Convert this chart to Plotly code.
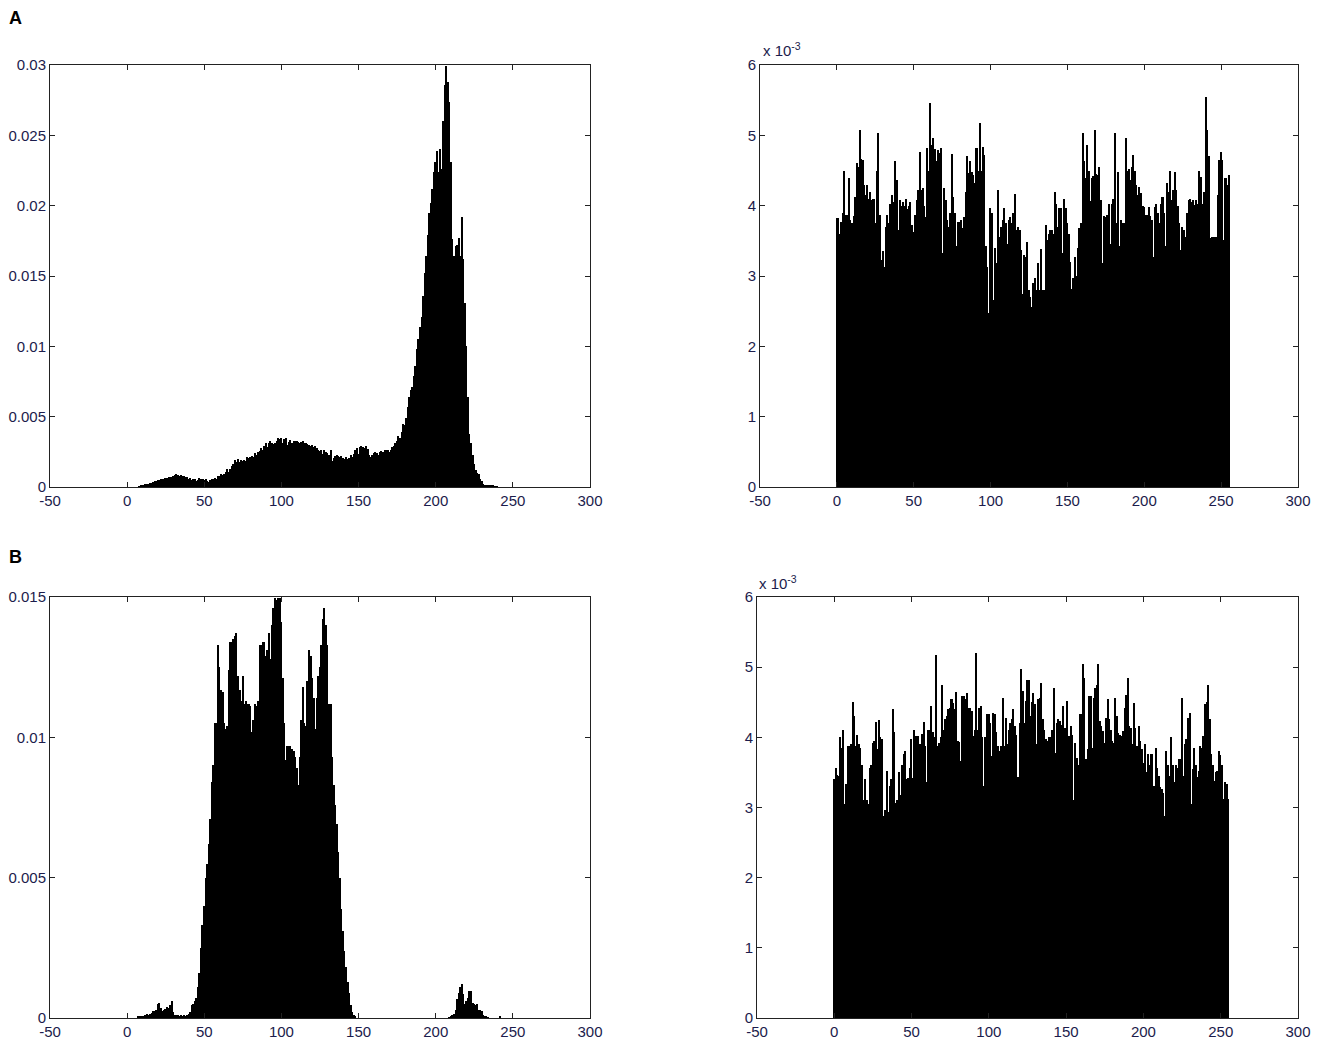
import plotly.graph_objects as go
from plotly.subplots import make_subplots

# bins 0..255 (grey levels)
bins = list(range(256))

# A left: normalised histogram, values in units of 1e-4
a_left_1e4 = [
    0, 0, 0, 0, 0, 0, 0, 0, 0.5, 0.8,
    1.2, 1.4, 1.8, 2.2, 2.4, 2.8, 3.2, 3.6, 4.0, 4.5,
    4.8, 5.0, 5.4, 5.8, 6.0, 6.4, 6.6, 6.8, 7.1, 7.4,
    7.8, 8.3, 9.0, 8.6, 8.0, 8.2, 7.8, 8.1, 6.8, 7.2,
    5.6, 6.6, 4.8, 5.6, 5.5, 4.4, 4.8, 6.2, 5.9, 5.5,
    5.3, 5.4, 4.3, 3.9, 4.8, 5.9, 5.4, 6.6, 5.9, 7.8,
    7.7, 9.0, 8.5, 9.5, 11.0, 12.5, 10.8, 13.0, 15.0, 16.0,
    19.0, 17.5, 20.0, 18.0, 19.0, 18.5, 19.5, 18.8, 21.0, 20.5,
    21.5, 22.0, 21.2, 24.0, 23.0, 25.0, 25.5, 28.0, 26.5, 29.0,
    31.0, 28.5, 31.0, 32.5, 31.0, 30.5, 31.5, 33.0, 35.0, 34.0,
    35.0, 31.5, 34.0, 35.0, 30.0, 32.0, 33.5, 31.5, 32.5, 33.0,
    32.5, 32.0, 31.0, 32.0, 32.5, 31.5, 31.0, 30.5, 30.0, 29.5,
    29.8, 28.5, 28.8, 27.5, 26.5, 25.5, 26.0, 23.5, 26.0, 25.0,
    24.0, 22.5, 26.0, 18.5, 20.5, 22.0, 22.5, 22.0, 21.0, 22.0,
    20.5, 20.0, 21.5, 20.0, 20.5, 22.5, 21.5, 23.5, 26.5, 27.5,
    23.5, 28.5, 29.0, 28.5, 28.0, 29.5, 27.0, 23.0, 21.5, 23.0,
    24.0, 25.0, 24.0, 23.0, 25.0, 25.5, 25.0, 26.0, 26.5, 26.0,
    25.0, 26.0, 28.5, 29.5, 31.0, 32.5, 36.0, 35.0, 39.0, 45.0,
    44, 49, 57, 64, 69, 71, 79, 86, 98, 105,
    114, 121, 136, 152, 164, 179, 195, 202, 212, 224,
    231, 239, 224, 240, 226, 260, 286, 299, 288, 274,
    231, 176, 164, 171, 172, 177, 164, 192, 162, 131,
    100, 64, 38, 31, 23, 16, 12, 10, 9, 6,
    4, 2, 1.5, 1, 1, 1, 1, 0.8, 0.6, 0.5,
    0.3, 0, 0, 0, 0, 0, 0, 0, 0, 0,
    0, 0, 0, 0, 0, 0,
]

# A right: values in units of 1e-3
a_right_1e3 = [
    3.83, 3.83, 3.6, 3.77, 3.9, 4.5, 3.87, 3.87, 4.39, 3.8,
    3.75, 3.85, 4.13, 4.6, 4.55, 5.07, 4.67, 4.65, 4.3, 4.15,
    4.3, 4.1, 4.2, 4.08, 4.1, 3.75, 4.5, 5.03, 3.87, 3.23,
    3.35, 3.13, 3.7, 3.87, 3.75, 4.03, 4.15, 4.05, 4.63, 4.36,
    3.65, 4.08, 4.0, 4.05, 4.0, 4.1, 3.95, 4.0, 4.05, 3.72,
    3.63, 3.87, 4.08, 4.22, 4.77, 4.22, 4.25, 4.0, 3.84, 4.82,
    4.5, 5.46, 4.86, 4.96, 4.8, 4.63, 4.79, 4.75, 4.82, 3.32,
    4.25, 4.08, 3.8, 3.7, 3.9, 4.74, 4.13, 3.9, 3.42, 3.77,
    3.77, 3.8, 3.68, 3.84, 4.2, 4.7, 4.46, 4.63, 4.48, 4.44,
    4.32, 4.82, 4.5, 5.17, 4.5, 4.84, 4.72, 3.42, 3.13, 2.47,
    3.96, 3.89, 2.66, 3.4, 3.18, 4.22, 3.56, 3.7, 3.8, 3.96,
    3.75, 3.46, 3.8, 3.84, 3.75, 3.9, 4.17, 3.65, 3.7, 3.65,
    3.37, 2.75, 3.3, 3.27, 3.49, 2.8, 2.7, 2.56, 2.9, 2.97,
    2.8, 3.18, 2.8, 3.39, 2.8, 2.8, 3.72, 3.51, 3.6, 3.65,
    3.65, 3.6, 4.2, 4.03, 3.7, 3.96, 3.96, 3.32, 4.1, 3.96,
    3.75, 3.6, 3.2, 2.82, 2.97, 3.27, 3.0, 3.4, 3.68, 3.75,
    5.03, 4.63, 4.4, 4.86, 4.5, 4.06, 4.39, 4.42, 5.07, 4.45,
    4.44, 4.55, 4.08, 3.18, 3.85, 3.84, 3.87, 4.03, 3.46, 4.03,
    4.1, 5.03, 3.75, 4.48, 3.42, 3.8, 3.75, 3.75, 4.96, 4.5,
    4.52, 4.36, 4.55, 4.72, 4.5, 4.3, 4.15, 4.27, 4.18, 4.0,
    3.98, 3.87, 3.87, 3.98, 3.85, 3.8, 3.27, 3.98, 4.03, 3.89,
    3.75, 4.03, 4.13, 3.9, 3.42, 4.32, 4.2, 4.5, 4.08, 4.22,
    4.48, 4.22, 4.0, 3.75, 3.37, 3.7, 3.65, 3.56, 3.9, 4.08,
    4.1, 4.05, 4.08, 4.01, 4.08, 4.03, 4.5, 4.41, 4.03, 4.2,
    5.55, 5.07, 4.7, 3.54, 3.56, 3.56, 3.56, 3.56, 4.15, 4.65,
    4.77, 4.65, 3.51, 4.39, 4.3, 4.44,
]

# B left: values in units of 1e-4
b_left_1e4 = [
    0, 0, 0, 0, 0, 0, 0, 0.5, 0.7, 0.7,
    0.5, 0.8, 1.2, 1.5, 1.2, 1.4, 1.8, 2.4, 2.6, 3.0,
    5.0, 5.5, 3.5, 2.5, 2.8, 3.2, 3.8, 3.5, 4.5, 6.0,
    2.0, 1.2, 1.0, 1.0, 0.8, 1.0, 0.8, 1.0, 0.8, 1.2,
    1.5, 2.0, 4.5, 5.0, 6.0, 7.0, 11, 16, 25, 33,
    40, 50, 55, 62, 71, 84, 90, 105, 105, 133,
    125, 117, 116, 105, 103, 104, 124, 134, 134, 135,
    136, 137, 122, 117, 113, 122, 112, 113, 112, 112,
    111, 102, 106, 112, 111, 113, 133, 133, 134, 134,
    129, 131, 137, 128, 140, 146, 149.5, 149, 149.5, 149.5,
    141, 121, 105, 92, 97, 97, 97, 96, 95, 93,
    89, 83, 93, 106, 118, 105, 104, 120, 131, 129,
    121, 114, 103, 114, 122, 125, 133, 142, 146, 140,
    133, 112, 112, 93, 83, 76, 69, 59, 50, 39,
    31, 24, 18, 13, 9, 4.5, 2, 1, 0.5, 0,
    0, 0, 0, 0, 0, 0, 0, 0, 0, 0,
    0, 0, 0, 0, 0, 0, 0, 0, 0, 0,
    0, 0, 0, 0, 0, 0, 0, 0, 0, 0,
    0, 0, 0, 0, 0, 0, 0, 0, 0, 0,
    0, 0, 0, 0, 0, 0, 0, 0, 0, 0,
    0, 0, 0, 0, 0, 0, 0, 0, 0, 0.3,
    0.5, 1, 1.5, 3, 6.7, 9, 11, 12, 8.5, 5,
    6, 7, 9.6, 9.5, 5.5, 5, 4.5, 5, 3, 3,
    2.5, 1, 0.8, 0.5, 0.3, 0, 0, 0, 0, 0,
    0, 0, 0.5, 0, 0, 0, 0, 0, 0, 0,
    0, 0, 0, 0, 0, 0,
]

# B right: values in units of 1e-3
b_right_1e3 = [
    3.4, 3.57, 3.47, 3.45, 4.0, 3.85, 4.11, 3.05, 3.33, 3.88,
    3.88, 3.9, 4.5, 4.3, 3.88, 4.04, 3.9, 3.85, 3.6, 3.1,
    3.4, 3.1, 3.05, 3.57, 3.6, 3.92, 3.95, 4.22, 3.83, 4.25,
    4.0, 3.97, 2.88, 2.96, 3.52, 2.93, 3.31, 3.4, 4.41, 4.07,
    3.07, 3.1, 3.5, 3.18, 3.6, 3.76, 3.8, 3.4, 3.42, 3.57,
    3.97, 3.42, 4.11, 4.02, 4.02, 3.9, 3.9, 4.05, 4.22, 3.88,
    3.36, 4.11, 4.11, 4.44, 4.07, 4.0, 5.18, 3.88, 3.92, 4.0,
    4.75, 4.11, 4.26, 4.3, 4.4, 4.42, 4.54, 4.49, 4.4, 4.64,
    3.95, 3.93, 3.66, 4.59, 4.59, 4.54, 4.63, 4.42, 4.42, 4.37,
    4.02, 4.1, 5.2, 4.11, 4.42, 4.44, 4.0, 3.31, 4.0, 4.33,
    4.33, 4.2, 3.74, 4.35, 4.33, 4.07, 3.88, 3.8, 3.88, 4.56,
    3.88, 4.28, 3.9, 4.11, 4.2, 4.26, 4.4, 4.16, 4.04, 3.43,
    4.2, 4.97, 4.66, 4.2, 4.52, 4.82, 4.82, 4.3, 4.5, 4.63,
    4.47, 3.9, 4.54, 4.56, 4.78, 4.26, 4.11, 3.97, 3.95, 4.0,
    4.0, 4.11, 4.7, 3.78, 4.2, 4.26, 4.23, 4.18, 4.44, 4.13,
    4.13, 4.52, 4.02, 4.16, 4.04, 3.1, 3.92, 3.7, 3.6, 4.33,
    4.33, 5.04, 4.85, 3.69, 3.83, 4.59, 4.59, 3.85, 4.56, 4.7,
    4.75, 5.04, 4.23, 4.16, 4.09, 3.92, 4.28, 4.54, 4.26, 4.11,
    3.95, 3.92, 4.56, 4.3, 4.06, 4.04, 4.02, 4.09, 4.42, 4.61,
    4.85, 4.16, 4.14, 3.9, 4.49, 4.14, 3.88, 4.16, 3.95, 3.83,
    3.64, 3.9, 3.5, 3.76, 3.6, 3.76, 3.76, 3.31, 3.85, 3.57,
    3.45, 3.29, 3.26, 3.2, 2.88, 3.8, 3.6, 3.45, 4.0, 3.6,
    3.36, 3.6, 3.57, 3.69, 3.69, 4.56, 3.45, 3.9, 3.97, 4.28,
    4.35, 3.05, 3.55, 3.85, 3.6, 3.43, 3.52, 3.88, 3.85, 4.02,
    4.47, 4.5, 4.75, 4.26, 3.76, 3.6, 3.38, 3.5, 3.52, 3.8,
    3.75, 3.6, 3.12, 3.36, 3.33, 3.12,
]

x_ticks = [-50, 0, 50, 100, 150, 200, 250, 300]
x_labels = ["-50", "0", "50", "100", "150", "200", "250", "300"]
a_left_ticks = [0, 0.005, 0.01, 0.015, 0.02, 0.025, 0.03]
a_left_labels = ["0", "0.005", "0.01", "0.015", "0.02", "0.025", "0.03"]
b_left_ticks = [0, 0.005, 0.01, 0.015]
b_left_labels = ["0", "0.005", "0.01", "0.015"]
right_ticks = [0, 1, 2, 3, 4, 5, 6]

W, H = 1325, 1057
OFF = 8  # page body margin
tick_color = "#1c1c4c"
font_family = "Liberation Sans, Arial"


def px_x(p):
    return (p - OFF) / W


def px_y(p):
    return 1 - (p - OFF) / H


fig = make_subplots(rows=2, cols=2)

panels = [
    (1, 1, [v / 1e4 for v in a_left_1e4]),
    (1, 2, a_right_1e3),
    (2, 1, [v / 1e4 for v in b_left_1e4]),
    (2, 2, b_right_1e3),
]
for r, c, vals in panels:
    fig.add_trace(go.Bar(x=bins[:len(vals)], y=vals, width=1,
                         marker=dict(color="black", line=dict(width=0)),
                         showlegend=False), row=r, col=c)

axis_style = dict(showline=True, linecolor="#222222", linewidth=1, mirror="ticks",
                  ticks="inside", ticklen=5, tickcolor="#222222", showgrid=False,
                  zeroline=False, automargin=False,
                  tickfont=dict(family=font_family, size=15, color=tick_color))

# domains from the pixel frame positions of the reference
x_left = [px_x(50), px_x(590)]
x_right_a = [px_x(760), px_x(1298)]
x_right_b = [px_x(757), px_x(1298)]
y_top = [px_y(487), px_y(65)]
y_bot = [px_y(1018), px_y(597)]

fig.update_xaxes(range=[-50, 300], tickvals=x_ticks, ticktext=x_labels, **axis_style)
fig.update_yaxes(**axis_style)

fig.update_layout(
    xaxis=dict(domain=x_left), yaxis=dict(domain=y_top, range=[0, 0.03], tickvals=a_left_ticks, ticktext=a_left_labels),
    xaxis2=dict(domain=x_right_a), yaxis2=dict(domain=y_top, range=[0, 6], tickvals=right_ticks),
    xaxis3=dict(domain=x_left), yaxis3=dict(domain=y_bot, range=[0, 0.015], tickvals=b_left_ticks, ticktext=b_left_labels),
    xaxis4=dict(domain=x_right_b), yaxis4=dict(domain=y_bot, range=[0, 6], tickvals=right_ticks),
)

fig.update_layout(
    width=W, height=H,
    margin=dict(l=0, r=0, t=0, b=0),
    paper_bgcolor="white", plot_bgcolor="white",
    bargap=0,
    annotations=[
        dict(text="<b>A</b>", x=px_x(7), y=px_y(18), xref="paper", yref="paper",
             xanchor="left", yanchor="middle", showarrow=False,
             font=dict(family=font_family, size=18, color="black")),
        dict(text="<b>B</b>", x=px_x(7), y=px_y(557), xref="paper", yref="paper",
             xanchor="left", yanchor="middle", showarrow=False,
             font=dict(family=font_family, size=18, color="black")),
        dict(text="x 10<sup>-3</sup>", x=px_x(761), y=px_y(50), xref="paper", yref="paper",
             xanchor="left", yanchor="middle", showarrow=False,
             font=dict(family=font_family, size=15, color=tick_color)),
        dict(text="x 10<sup>-3</sup>", x=px_x(757), y=px_y(582), xref="paper", yref="paper",
             xanchor="left", yanchor="middle", showarrow=False,
             font=dict(family=font_family, size=15, color=tick_color)),
    ],
)

fig.write_html("out.html")
